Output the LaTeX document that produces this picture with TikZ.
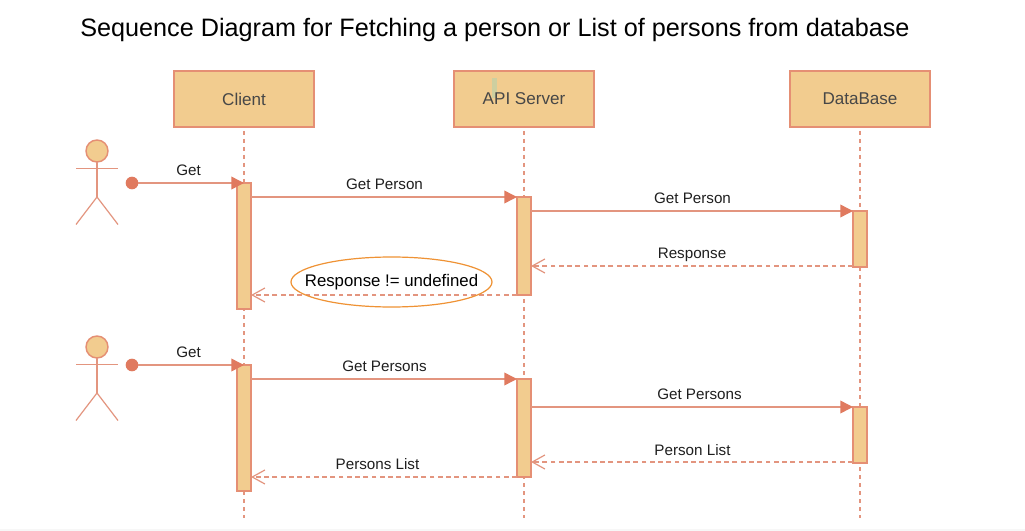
\documentclass[tikz,border=0pt]{standalone}
\usepackage{fontspec}
\setmainfont{Liberation Sans}
\usetikzlibrary{arrows.meta,shapes.geometric}
\definecolor{boxfill}{HTML}{F2CC8F}
\definecolor{boxline}{HTML}{E58F74}
\definecolor{arrowcol}{HTML}{E07A5F}
\definecolor{lineline}{HTML}{E3957F}
\definecolor{ovalline}{HTML}{EF9234}
\definecolor{cursormark}{HTML}{CDCFA0}
\tikzset{
  headbox/.style={draw=boxline,fill=boxfill,line width=1.5pt,outer sep=0pt,inner sep=0pt,minimum width=105pt,minimum height=42pt,text=black!72,font=\fontsize{12.8}{14}\selectfont},
  bar/.style={draw=boxline,fill=boxfill,line width=1.5pt,outer sep=0pt,inner sep=0pt,minimum width=10.5pt,anchor=north west},
  lifeline/.style={draw=lineline,line width=1.1pt,dash pattern=on 3pt off 3pt},
  callarrow/.style={draw=lineline,line width=1.1pt,-{Triangle[length=9.5pt,width=9.5pt,color=arrowcol]}},
  backarrow/.style={draw=lineline,line width=1pt,dash pattern=on 3.6pt off 2.6pt,-{Straight Barb[length=9.5pt,width=10.5pt,line width=.9pt]}},
  msg/.style={font=\fontsize{11.4}{13}\selectfont,text=black!88,inner sep=0pt},
  figure/.style={draw=lineline,line width=.9pt},
  headc/.style={circle,draw=boxline,fill=boxfill,line width=1.1pt,minimum size=16.5pt,inner sep=0pt,outer sep=0pt},
  startdot/.style={circle,fill=arrowcol,minimum size=9.5pt,inner sep=0pt,outer sep=0pt},
  oval/.style={ellipse,draw=ovalline,line width=.9pt,inner sep=0pt,minimum width=150.75pt,minimum height=37.5pt,font=\fontsize{12.6}{14}\selectfont},
}
\begin{document}
\begin{tikzpicture}[x=0.75pt,y=-0.75pt]
\useasboundingbox (0,0) rectangle (1025,531);
\fill[white] (0,0) rectangle (1025,531);
\fill[black!3] (0,529) rectangle (1025,531);

\node[font=\fontsize{18.9}{22}\selectfont,inner sep=0pt] (title) at (495,29.5) {Sequence Diagram for Fetching a person or List of persons from database};

% lifeline ends
\coordinate (endA) at (244,518);
\coordinate (endB) at (524,518);
\coordinate (endC) at (860,518);

% headers
\coordinate (posA) at (244,99);
\coordinate (posB) at (524,99);
\coordinate (posC) at (860,99);
\draw[lifeline] (posA) -- (endA);
\draw[lifeline] (posB) -- (endB);
\draw[lifeline] (posC) -- (endC);
\node[headbox] (client) at (posA) {Client};
\node[headbox] (api) at (posB) {};
\node[headbox] (db) at (posC) {DataBase};
\fill[cursormark] (492,78) rectangle (497,98);
\node[text=black!72,font=\fontsize{12.8}{14}\selectfont,inner sep=0pt] (apilabel) at (posB) {API Server};

% activation bars
\node[bar,minimum height=94.5pt] (a1) at (237,183) {};
\node[bar,minimum height=94.5pt] (a2) at (237,365) {};
\node[bar,minimum height=73.5pt] (b1) at (517,197) {};
\node[bar,minimum height=73.5pt] (b2) at (517,379) {};
\node[bar,minimum height=42pt] (c1) at (853,211) {};
\node[bar,minimum height=42pt] (c2) at (853,407) {};

% actors
\node[headc] (h1) at (97,151) {};
\coordinate (hip1) at (97,197);
\draw[figure] (h1.south) -- (hip1);
\draw[figure] (76,168.5) -- (118,168.5);
\draw[figure] (76,224.5) -- (hip1) -- (118,224.5);
\node[headc] (h2) at (97,347) {};
\coordinate (hip2) at (97,393);
\draw[figure] (h2.south) -- (hip2);
\draw[figure] (76,364.5) -- (118,364.5);
\draw[figure] (76,420.5) -- (hip2) -- (118,420.5);

\node[startdot] (d1) at (132,183) {};
\node[startdot] (d2) at (132,365) {};

% first sequence
\draw[callarrow] (d1) -- (a1.north);
\node[msg] (l1) at (188.5,170.5) {Get};
\coordinate (a1o) at (251,197);
\draw[callarrow] (a1o) -- (b1.north west);
\node[msg] (l2) at (384.5,184.5) {Get Person};
\coordinate (b1o) at (531,211);
\draw[callarrow] (b1o) -- (c1.north west);
\node[msg] (l3) at (692.5,198.5) {Get Person};
\coordinate (b1i) at (531,266);
\coordinate (c1i) at (853,266);
\draw[backarrow] (c1i) -- (b1i);
\node[msg] (l4) at (692,254.5) {Response};
\coordinate (a1i) at (251,295);
\coordinate (b1r) at (517,295);
\draw[backarrow] (b1r) -- (a1i);
\node[oval] (l5) at (391.5,282) {\makebox[0pt]{Response != undefined}};

% second sequence
\draw[callarrow] (d2) -- (a2.north);
\node[msg] (l6) at (188.5,352.5) {Get};
\coordinate (a2o) at (251,379);
\draw[callarrow] (a2o) -- (b2.north west);
\node[msg] (l7) at (384.5,366.5) {Get Persons};
\coordinate (b2o) at (531,407);
\draw[callarrow] (b2o) -- (c2.north west);
\node[msg] (l8) at (699.5,394.5) {Get Persons};
\coordinate (b2i) at (531,462);
\coordinate (c2i) at (853,462);
\draw[backarrow] (c2i) -- (b2i);
\node[msg] (l9) at (692.5,450.5) {Person List};
\coordinate (a2i) at (251,477);
\coordinate (b2r) at (517,477);
\draw[backarrow] (b2r) -- (a2i);
\node[msg] (l10) at (377.5,464.5) {Persons List};
\end{tikzpicture}
\end{document}
